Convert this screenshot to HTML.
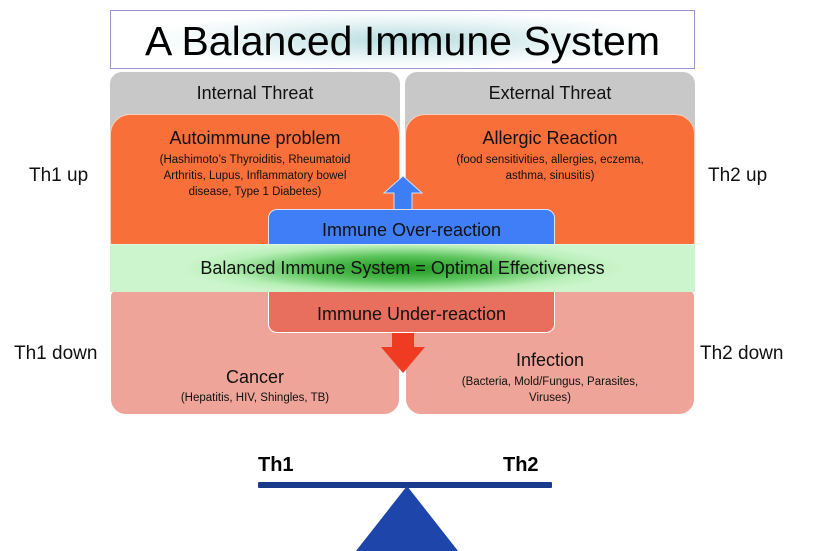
<!DOCTYPE html>
<html><head><style>
body{margin:0;width:827px;height:551px;background:#fff;position:relative;overflow:hidden;font-family:"Liberation Sans",sans-serif}
div{position:absolute;box-sizing:border-box}
.c{text-align:center;color:#111}
.side{font-size:19px;color:#111}
.sm{font-size:11.5px;line-height:16px}
</style></head><body>
<div style="left:110px;top:10px;width:585px;height:59px;border:1px solid #9a92c8;background:radial-gradient(ellipse 45% 50% at 50% 50%,#b8dde0,#eef7f8 70%,#fff 100%)"></div>
<div class="c" style="left:110px;top:17px;width:585px;font-size:41px;line-height:48px;color:#000">A Balanced Immune System</div>

<div style="left:110px;top:72px;width:290px;height:180px;background:#c8c8c8;border-radius:12px 12px 0 0"></div>
<div style="left:405px;top:72px;width:290px;height:180px;background:#c8c8c8;border-radius:12px 12px 0 0"></div>
<div class="c" style="left:110px;top:83px;width:290px;font-size:18px">Internal Threat</div>
<div class="c" style="left:405px;top:83px;width:290px;font-size:18px">External Threat</div>

<div style="left:110px;top:114px;width:290px;height:134px;background:#f96f3a;border:1px solid #fbd0b8;border-radius:20px 20px 6px 6px"></div>
<div style="left:405px;top:114px;width:290px;height:134px;background:#f96f3a;border:1px solid #fbd0b8;border-radius:20px 20px 6px 6px"></div>
<div class="c" style="left:110px;top:128px;width:290px;font-size:18px">Autoimmune problem</div>
<div class="c sm" style="left:145px;top:152px;width:220px">(Hashimoto’s Thyroiditis, Rheumatoid Arthritis, Lupus, Inflammatory bowel disease, Type 1 Diabetes)</div>
<div class="c" style="left:405px;top:128px;width:290px;font-size:18px">Allergic Reaction</div>
<div class="c sm" style="left:440px;top:152px;width:220px">(food sensitivities, allergies, eczema, asthma, sinusitis)</div>

<svg style="position:absolute;left:380px;top:175px" width="50" height="36"><polygon points="23,1 42,18 32,18 32,35 14,35 14,18 4,18" fill="#3d7ef5" stroke="#cfe0ff" stroke-width="1"/></svg>
<div style="left:268px;top:209px;width:287px;height:40px;background:#3f7ef6;border:1px solid #d8e4ff;border-radius:9px 9px 0 0"></div>
<div class="c" style="left:268px;top:220px;width:287px;font-size:18px">Immune Over-reaction</div>

<div style="left:110px;top:290px;width:290px;height:125px;background:#eea499;border:1px solid #fff;border-radius:6px 6px 16px 16px"></div>
<div style="left:405px;top:290px;width:290px;height:125px;background:#eea499;border:1px solid #fff;border-radius:6px 6px 16px 16px"></div>
<div style="left:268px;top:288px;width:287px;height:45px;background:#e86f5e;border:1px solid #fff;border-radius:0 0 9px 9px"></div>
<div class="c" style="left:268px;top:304px;width:287px;font-size:18px">Immune Under-reaction</div>
<svg style="position:absolute;left:381px;top:333px" width="46" height="42"><polygon points="11,0 33,0 33,14 44,14 22,40 0,14 11,14" fill="#ef3b22"/></svg>
<div class="c" style="left:110px;top:367px;width:290px;font-size:18px">Cancer</div>
<div class="c sm" style="left:110px;top:390px;width:290px">(Hepatitis, HIV, Shingles, TB)</div>
<div class="c" style="left:405px;top:350px;width:290px;font-size:18px">Infection</div>
<div class="c sm" style="left:445px;top:374px;width:210px">(Bacteria, Mold/Fungus, Parasites, Viruses)</div>

<div style="left:110px;top:244px;width:585px;height:48px;background:radial-gradient(ellipse 38% 60% at 50% 50%,#1c961c,#5cc45c 45%,#b8efb8 80%,#cdf5cd 100%);border-top:1px solid #e0f5e0"></div>
<div class="c" style="left:110px;top:258px;width:585px;font-size:18px">Balanced Immune System = Optimal Effectiveness</div>

<div class="side" style="left:29px;top:165px">Th1 up</div>
<div class="side" style="left:14px;top:343px">Th1 down</div>
<div class="side" style="left:708px;top:165px">Th2 up</div>
<div class="side" style="left:700px;top:343px">Th2 down</div>

<div style="left:258px;top:454px;font-size:20px;font-weight:bold;color:#000">Th1</div>
<div style="left:503px;top:454px;font-size:20px;font-weight:bold;color:#000">Th2</div>
<div style="left:258px;top:482px;width:294px;height:6px;background:#1a3a8c;border-radius:1px"></div>
<svg style="position:absolute;left:350px;top:486px" width="115" height="65"><polygon points="57,0 112,70 2,70" fill="#1e45aa"/></svg>
</body></html>
